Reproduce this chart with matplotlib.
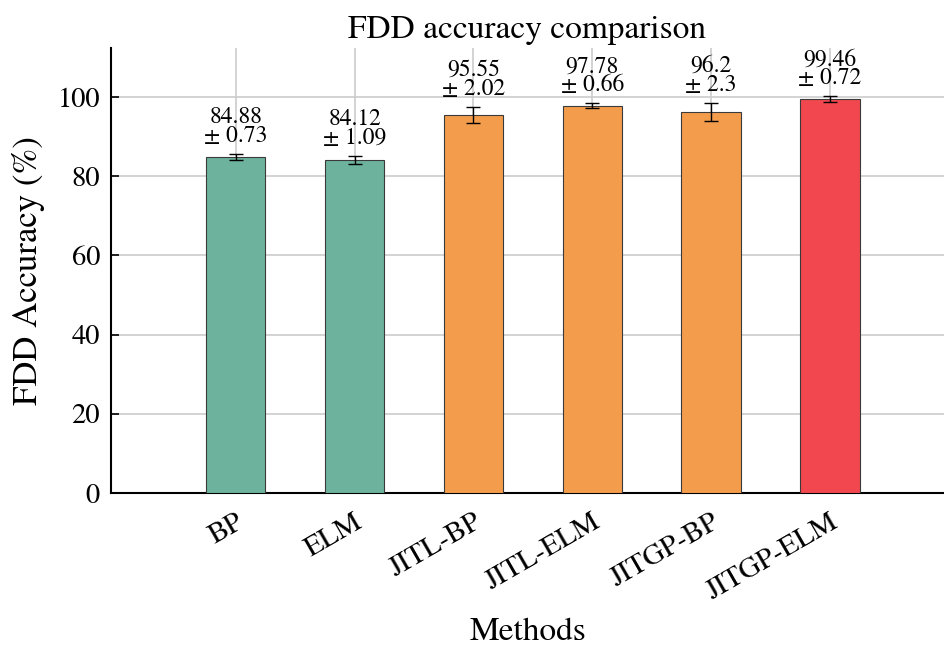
import matplotlib
matplotlib.use("Agg")
import matplotlib.pyplot as plt
import numpy as np

methods = ["BP", "ELM", "JITL-BP", "JITL-ELM", "JITGP-BP", "JITGP-ELM"]
means = [84.88, 84.12, 95.55, 97.78, 96.2, 99.46]
stds = [0.73, 1.09, 2.02, 0.66, 2.3, 0.72]
colors = ["#6CB29D", "#6CB29D", "#F39D4C", "#F39D4C", "#F39D4C", "#F2474F"]

plt.rcParams['font.family'] = ['STIXGeneral', 'DejaVu Serif']
plt.rcParams['mathtext.fontset'] = 'stix'

fig = plt.figure(figsize=(9.44, 6.5), dpi=100)
ax = fig.add_axes([111/944, 157/650, 1 - 111/944, (493-48)/650])

x = np.arange(len(methods))
ax.bar(x, means, width=0.5, color=colors, edgecolor='#3a3a3a', linewidth=0.8, zorder=3,
       yerr=stds, capsize=5, error_kw=dict(ecolor='black', elinewidth=1.0, capthick=1.0, zorder=4))

for xi, m, s in zip(x, means, stds):
    ax.annotate(f"{m}\n± {s}", xy=(xi, m + s), xytext=(0, 5), textcoords='offset points',
                ha='center', va='bottom', fontsize=17, linespacing=0.85, zorder=5)

ax.set_xlim(-1.05, 5.96)
ax.set_ylim(0, 112.4)
ax.set_yticks([0, 20, 40, 60, 80, 100])
ax.set_xticks(x)
ax.set_xticklabels(methods, fontsize=21)
for lbl in ax.get_xticklabels():
    lbl.set_rotation(30)
    lbl.set_ha('right')
    lbl.set_rotation_mode('anchor')
ax.tick_params(axis='y', labelsize=20.5, pad=8)
ax.tick_params(axis='x', pad=12)
ax.tick_params(direction='in', length=6, width=1.2)
ax.grid(True, color='#cccccc', linewidth=1.2, zorder=0)
ax.set_axisbelow(True)
for sp in ['top', 'right']:
    ax.spines[sp].set_visible(False)
for sp in ['left', 'bottom']:
    ax.spines[sp].set_linewidth(1.5)

ax.set_title("FDD accuracy comparison", fontsize=24, pad=7)
ax.set_xlabel("Methods", fontsize=24)
ax.set_ylabel("FDD Accuracy (%)", fontsize=25)
ax.xaxis.set_label_coords(0.5, -0.28)
ax.yaxis.set_label_coords(-0.079, 0.5)

fig.savefig("out.png", dpi=100)
